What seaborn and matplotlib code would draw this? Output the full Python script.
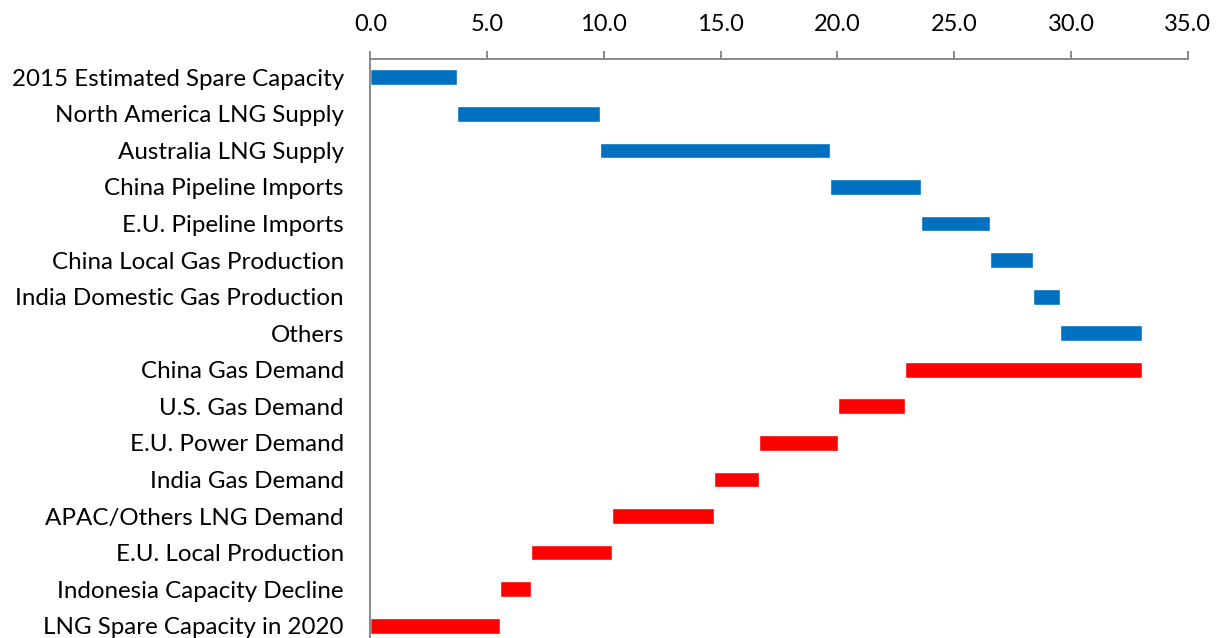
import pandas as pd
import seaborn as sns
import matplotlib.pyplot as plt

# Waterfall of LNG supply / demand
labels = [
    "2015 Estimated Spare Capacity",
    "North America LNG Supply",
    "Australia LNG Supply",
    "China Pipeline Imports",
    "E.U. Pipeline Imports",
    "China Local Gas Production",
    "India Domestic Gas Production",
    "Others",
    "China Gas Demand",
    "U.S. Gas Demand",
    "E.U. Power Demand",
    "India Gas Demand",
    "APAC/Others LNG Demand",
    "E.U. Local Production",
    "Indonesia Capacity Decline",
    "LNG Spare Capacity in 2020",
]
bar_start = [0.0, 3.70, 9.84, 19.69, 23.58, 26.54, 28.38, 29.54,
             22.90, 20.03, 16.65, 14.72, 10.35, 6.88, 5.55, 0.0]
bar_end = [3.70, 9.84, 19.69, 23.58, 26.54, 28.38, 29.54, 33.05,
           33.05, 22.90, 20.03, 16.65, 14.72, 10.35, 6.88, 5.55]
kind = ["supply"] * 8 + ["demand"] * 8

df = pd.DataFrame({"label": labels, "start": bar_start, "end": bar_end, "kind": kind})

palette = {"supply": "#0070C0", "demand": "#FF0000"}

sns.set_style("white")
plt.rcParams["font.family"] = ["Lato", "DejaVu Sans"]

fig = plt.figure(figsize=(12.17, 6.38), dpi=100)
ax = fig.add_axes([0.3043, -0.0094, 0.6717, 0.9169])

# coloured bar up to the end, then a white bar hides the part before the start
sns.barplot(data=df, y="label", x="end", hue="kind", palette=palette,
            dodge=False, width=0.43, legend=False, ax=ax, saturation=1.0)
sns.barplot(data=df, y="label", x="start", color="white",
            width=0.45, ax=ax, saturation=1.0)

ax.set_xlim(0, 35)
ax.set_ylim(15.5, -0.5)
ax.set_xticks([0, 5, 10, 15, 20, 25, 30, 35])
ax.set_xticklabels([f"{v:.1f}" for v in [0, 5, 10, 15, 20, 25, 30, 35]])
ax.xaxis.tick_top()
ax.set_xlabel("")
ax.set_ylabel("")

for s in ["right", "bottom"]:
    ax.spines[s].set_visible(False)
for s in ["top", "left"]:
    ax.spines[s].set_color("#898989")
    ax.spines[s].set_linewidth(1.4)

ax.tick_params(axis="x", top=True, direction="out", length=6, width=1.4,
               color="#898989", pad=11, labelsize=17, labelcolor="#000000")
ax.tick_params(axis="y", left=False, length=0, pad=19, labelsize=17.4,
               labelcolor="#000000")

fig.savefig("out.png", dpi=100)
